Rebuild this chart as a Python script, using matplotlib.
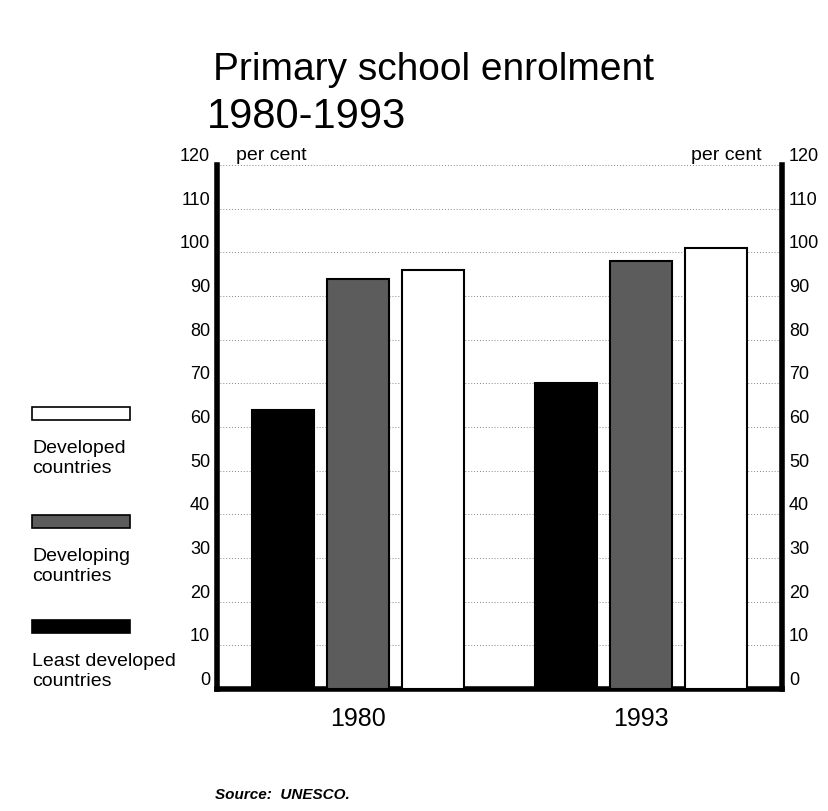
import matplotlib
matplotlib.use("Agg")
import matplotlib.pyplot as plt
import numpy as np
from matplotlib.patches import Rectangle

plt.rcParams['font.family'] = ['Liberation Sans', 'DejaVu Sans']

years = ["1980", "1993"]
series = ["Least developed\ncountries", "Developing\ncountries", "Developed\ncountries"]
least_developed = [64, 70]
developing = [94, 98]
developed = [96, 101]
yticks = list(range(0, 121, 10))

values = [least_developed, developing, developed]
face = ["black", "#5c5c5c", "white"]

fig = plt.figure(figsize=(8.29, 8.11), dpi=100)
ax = fig.add_axes([217/829, 1-689/811, (782-217)/829, (689-165)/811])

x = np.arange(len(years))
width = 0.22
pitch = 0.266
for i, (vals, fc) in enumerate(zip(values, face)):
    ax.bar(x + (i-1)*pitch, vals, width, color=fc, edgecolor="black", linewidth=1.5, zorder=3)

ax.set_xlim(-0.5, 1.5)
ax.set_ylim(0, 120)
ax.set_yticks(yticks)
ax.set_yticklabels([str(t) for t in yticks], fontsize=13)
ax.tick_params(axis="y", length=0, pad=5, labelleft=True, labelright=True)
for lab in ax.get_yticklabels():
    lab.set_va("bottom")
ax.yaxis.set_ticks_position("both")
ax.tick_params(axis="y", length=0)
ax.set_xticks(x)
ax.set_xticklabels(years, fontsize=18)
ax.tick_params(axis="x", length=0, pad=13)

ax.grid(axis="y", linestyle=(0, (1, 2)), color="#888888", linewidth=0.7, zorder=0)
ax.spines["top"].set_visible(False)
for s in ["left", "right", "bottom"]:
    ax.spines[s].set_linewidth(4)

# per cent labels
fig.text(236/829, 1-160/811, "per cent", fontsize=14, ha="left", va="baseline")
fig.text(762/829, 1-160/811, "per cent", fontsize=14, ha="right", va="baseline")

# title
fig.text(213/829, 1-80/811, "Primary school enrolment", fontsize=28, ha="left", va="baseline")
fig.text(207/829, 1-128/811, "1980-1993", fontsize=30, ha="left", va="baseline")

# legend (developed on top)
legend_rows = [(2, 407), (1, 515), (0, 620)]
for idx, ytop in legend_rows:
    fig.patches.append(Rectangle((32/829, 1-(ytop+13)/811), 98/829, 13/811,
                                 transform=fig.transFigure, facecolor=face[idx],
                                 edgecolor="black", linewidth=1.2))
    for k, line in enumerate(series[idx].split("\n")):
        fig.text(32/829, 1-(ytop+46+20*k)/811, line, fontsize=14, ha="left",
                 va="baseline")

fig.text(215/829, 1-795/811, "Source:  UNESCO.", fontsize=11, fontweight="bold",
         fontstyle="italic", ha="left", va="center")

fig.savefig("out.png", dpi=100)
